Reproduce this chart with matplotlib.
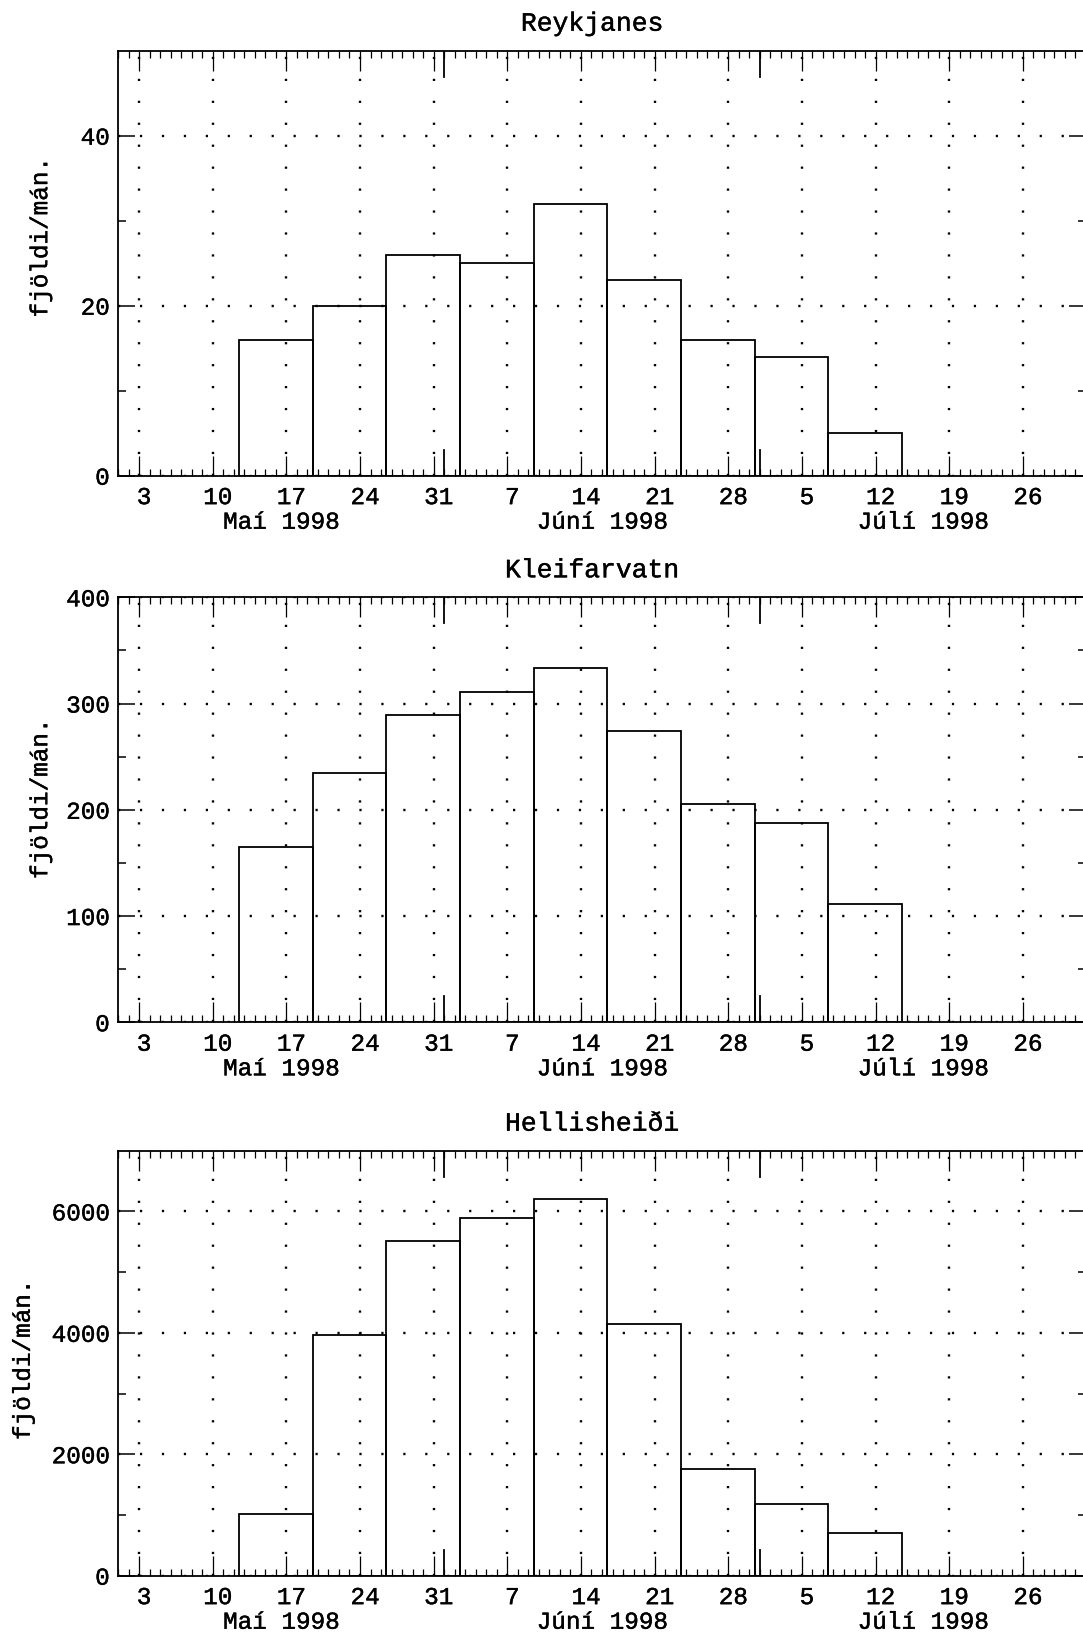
import matplotlib
matplotlib.use("Agg")
import matplotlib.pyplot as plt
import matplotlib.transforms as mtrans
import matplotlib.patheffects as pe
from matplotlib.text import Text
from matplotlib.ticker import FixedLocator, MultipleLocator, NullFormatter

plt.rcParams['font.family'] = ['Liberation Mono', 'DejaVu Sans Mono']
plt.rcParams['lines.scale_dashes'] = False

# Day numbers are counted from 1 May 1998 (= day 1); June 1 = 32, July 1 = 62.
week_centers = [16, 23, 30, 37, 44, 51, 58, 65, 72]
week_width = 7

reykjanes = [16, 20, 26, 25, 32, 23, 16, 14, 5]
kleifarvatn = [165, 235, 289, 311, 333, 274, 205, 188, 111]
hellisheidi = [1020, 3960, 5520, 5890, 6200, 4150, 1760, 1180, 700]

stations = ["Reykjanes", "Kleifarvatn", "Hellisheiði"]
series = [reykjanes, kleifarvatn, hellisheidi]

tick_days = [3, 10, 17, 24, 31, 38, 45, 52, 59, 66, 73, 80, 87]
tick_labels = ["3", "10", "17", "24", "31", "7", "14", "21", "28",
               "5", "12", "19", "26"]
month_starts = [32, 62]
month_centers = [16.5, 47, 77.5]
month_names = ["Maí 1998", "Júní 1998", "Júlí 1998"]
day_range = (1, 93)

y_top = [50, 400, 7000]
y_major = [[0, 20, 40], [0, 100, 200, 300, 400], [0, 2000, 4000, 6000]]
y_minor = [[10, 30], [50, 150, 250, 350], [1000, 3000, 5000]]
y_label = "fjöldi/mán."

W, H = 1083, 1637
fig = plt.figure(figsize=(W / 100, H / 100), dpi=100)

left_px, right_px = 118, 1086
panel_px = [(50.7, 475.7), (597.3, 1022.3), (1150.7, 1575.7)]
ylabel_pos = [(-0.068, 0.56), (-0.068, 0.525), (-0.086, 0.507)]

FS = 17.5
LW = 1.3

for i, (name, vals) in enumerate(zip(stations, series)):
    top, bot = panel_px[i]
    ax = fig.add_axes([left_px / W, 1 - bot / H,
                       (right_px - left_px) / W, (bot - top) / H])

    ax.bar(week_centers, vals, width=week_width, fill=False,
           edgecolor="black", linewidth=LW, zorder=3)

    ax.set_xlim(*day_range)
    ax.set_ylim(0, y_top[i])

    ax.xaxis.set_major_locator(FixedLocator(tick_days))
    ax.xaxis.set_minor_locator(MultipleLocator(1))
    ax.set_xticklabels(tick_labels)
    ax.yaxis.set_major_locator(FixedLocator(y_major[i]))
    ax.yaxis.set_minor_locator(FixedLocator(y_minor[i]))
    ax.yaxis.set_minor_formatter(NullFormatter())

    ax.tick_params(axis="x", which="major", direction="in", top=True,
                   bottom=True, length=14.5, width=0.9, pad=7.5,
                   labelsize=FS)
    ax.tick_params(axis="x", which="minor", direction="in", top=True,
                   bottom=True, length=5, width=0.9)
    ax.tick_params(axis="y", which="major", direction="in", left=True,
                   right=True, length=12, width=1.1, pad=6, labelsize=FS)
    ax.tick_params(axis="y", which="minor", direction="in", left=True,
                   right=True, length=5.5, width=1.1)

    for lab in ax.get_xticklabels():
        lab.set_transform(lab.get_transform() +
                          mtrans.ScaledTranslation(0.05, 0, fig.dpi_scale_trans))

    ax.grid(True, which="major", color="black",
            linestyle=(0, (1.6, 14.2)), linewidth=1.7)
    ax.set_axisbelow(True)

    for sp in ax.spines.values():
        sp.set_linewidth(LW)

    # longer ticks marking the start of each month
    frac = 26 / (bot - top)
    for m in month_starts:
        ax.axvline(m, 0, frac, color="black", linewidth=LW, zorder=2.6)
        ax.axvline(m, 1 - frac, 1, color="black", linewidth=LW, zorder=2.6)

    for mc, mn in zip(month_centers, month_names):
        ax.annotate(mn, xy=(mc, 0), xycoords=("data", "axes fraction"),
                    xytext=(0, -33.5), textcoords="offset points",
                    ha="center", va="center", fontsize=FS)

    ax.set_ylabel(y_label, fontsize=FS)
    ax.yaxis.set_label_coords(*ylabel_pos[i])

    ax.text(0.49, 1.0, name, transform=ax.transAxes +
            mtrans.ScaledTranslation(0, 0.2, fig.dpi_scale_trans),
            ha="center", va="baseline", fontsize=19)

# slightly heavier strokes for all lettering
for t in fig.findobj(Text):
    t.set_path_effects([pe.withStroke(linewidth=0.3, foreground="black")])

fig.savefig("out.png", dpi=100)
